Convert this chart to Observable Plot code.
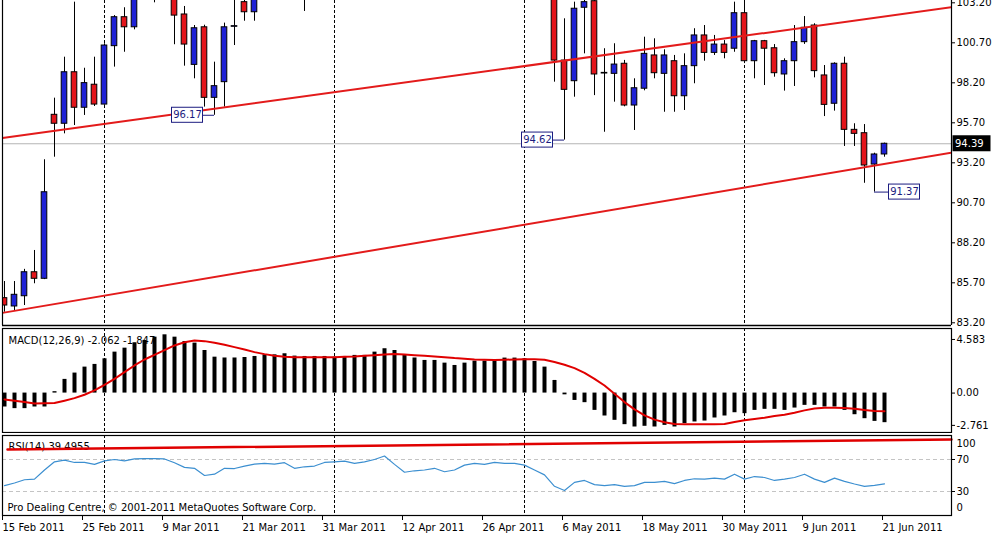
<!DOCTYPE html>
<html><head><meta charset="utf-8">
<script src="https://cdn.jsdelivr.net/npm/d3@7"></script>
<script src="https://cdn.jsdelivr.net/npm/@observablehq/plot@0.6"></script>
<style>
body{margin:0;background:#fff;}
#wrap{position:relative;width:1001px;height:538px;overflow:hidden;background:#fff;}
#wrap svg{position:absolute;left:0;}
</style></head><body><div id="wrap"></div>
<script>
// ---- DATA ----
const opens  = [84.74,84.22,84.86,86.36,85.95,96.2,95.64,98.86,96.64,98.08,96.84,100.49,102.3,101.67,104.3,105.4,104.1,104.6,102.47,99.32,101.67,97.26,98.24,101.7,103.24,102.61,103.9,104.8,105.5,105.1,104.3,104.9,105.7,105.2,105.9,106.5,107.0,108.0,108.6,109.2,106.2,105.0,105.8,105.3,106.5,105.1,106.0,107.3,107.1,107.5,107.9,107.4,106.9,105.6,104.5,104.0,99.59,98.3,102.89,103.3,98.78,98.76,99.39,96.78,97.83,99.91,98.76,99.55,97.36,99.24,101.16,100.07,100.59,100.33,102.55,99.55,100.8,100.36,98.72,99.55,100.74,101.78,98.66,96.89,99.39,95.26,95.05,93.09,93.72];
const highs  = [85.78,85.78,86.54,87.72,93.39,97.24,99.8,103.24,99.11,99.8,100.64,102.4,102.89,104.6,105.8,106.2,105.0,104.9,102.97,101.78,101.8,99.49,101.93,103.6,103.6,104.2,105.1,105.9,106.3,105.6,105.2,106.0,106.4,106.1,106.8,107.4,108.3,109.2,109.6,109.4,106.9,106.2,106.4,106.8,106.9,106.3,107.6,108.0,107.9,108.4,108.3,108.1,107.5,106.2,105.0,104.2,102.2,103.24,103.5,103.6,100.33,100.64,99.6,98.45,101.05,100.95,100.26,99.91,100.01,101.58,101.78,101.16,100.84,103.24,103.6,100.85,100.85,100.59,99.7,101.78,102.34,101.89,99.28,99.45,99.8,95.64,95.59,93.8,94.43];
const lows   = [83.86,83.96,84.28,85.64,85.9,93.55,95.01,95.53,96.16,96.72,96.8,99.18,100.11,101.51,103.9,103.2,103.6,100.58,99.24,98.45,96.68,96.17,96.68,100.53,102.05,102.05,103.6,104.2,104.9,103.8,102.66,104.4,104.9,104.7,105.3,105.9,106.6,107.4,108.1,105.8,104.6,104.5,104.9,105.0,104.8,104.7,105.8,106.5,106.4,106.9,107.0,106.5,105.2,104.1,103.6,98.24,94.62,97.3,100.01,97.4,95.11,96.99,96.7,95.22,97.7,98.45,96.36,96.36,96.47,98.14,99.55,99.91,99.7,100.11,99.4,98.45,98.03,98.55,97.68,97.97,100.6,98.51,96.09,96.43,94.22,94.22,91.92,91.37,93.55];
const closes = [84.28,84.95,86.36,85.95,91.36,95.64,98.86,96.64,98.18,96.84,100.53,102.3,101.67,104.3,105.4,104.1,104.6,102.4,100.59,101.61,97.26,97.99,101.67,101.74,102.61,103.9,104.8,105.5,105.1,104.3,104.9,105.7,105.2,105.9,106.5,107.0,108.0,108.6,109.2,106.2,105.0,105.8,105.3,106.5,105.1,106.0,107.3,107.1,107.5,107.9,107.4,106.9,105.6,104.5,104.0,99.59,97.76,102.83,103.24,98.72,98.82,99.34,96.78,97.86,100.01,98.8,99.91,97.36,99.24,101.16,100.07,100.59,100.07,102.55,99.55,100.8,100.33,98.8,99.55,100.74,101.64,98.93,96.82,99.39,95.26,95.01,93.03,93.72,94.39];

const macdHist = [-1.19,-1.33,-1.33,-1.19,-1.19,0.12,1.17,1.71,2.22,2.45,2.93,3.5,3.84,4.3,4.5,4.78,4.98,4.78,4.41,4.27,3.64,3.07,3.0,3.0,3.04,3.13,3.27,3.27,3.36,3.16,3.13,3.13,3.13,3.07,3.13,3.22,3.22,3.5,3.79,3.64,3.27,3.0,2.79,2.79,2.56,2.36,2.56,2.73,2.73,2.85,2.99,2.99,2.93,2.7,2.22,1.08,-0.15,-0.63,-0.82,-1.48,-1.96,-2.33,-2.7,-2.9,-2.84,-2.9,-2.76,-2.9,-2.61,-2.47,-2.39,-2.13,-1.96,-1.68,-1.76,-1.48,-1.39,-1.39,-1.48,-1.28,-1.05,-1.05,-1.19,-1.19,-1.48,-1.85,-2.19,-2.42,-2.53];
const macdSignal = [-0.54,-0.65,-0.77,-0.9,-0.88,-0.85,-0.65,-0.43,-0.14,0.23,0.71,1.22,1.79,2.36,2.87,3.27,3.67,4.07,4.35,4.5,4.44,4.3,4.13,3.93,3.73,3.5,3.33,3.19,3.1,3.07,3.07,3.07,3.07,3.07,3.1,3.13,3.19,3.24,3.3,3.33,3.3,3.24,3.19,3.13,3.07,2.99,2.93,2.87,2.85,2.82,2.85,2.87,2.9,2.9,2.85,2.65,2.42,2.13,1.73,1.22,0.65,-0.06,-0.77,-1.39,-1.9,-2.27,-2.5,-2.64,-2.67,-2.67,-2.67,-2.67,-2.64,-2.47,-2.33,-2.22,-2.1,-1.96,-1.85,-1.68,-1.48,-1.31,-1.25,-1.25,-1.28,-1.34,-1.45,-1.53,-1.56];
const rsi = [37.3,40.6,44.7,45.5,56.9,67.1,69.2,66.3,66.3,63.9,68.3,70,68.3,70.7,71.1,71.1,70.7,65.9,60.2,59,50,51.6,59,58.7,61.8,64.3,65.1,64.3,66,59,60.9,61.8,66.3,67.1,67.9,65.1,67.1,70,74.4,63.9,54.1,55.9,56.9,59,54.7,56.9,63,65.1,63.9,66.3,65.1,65.1,63,56.9,50.8,36.5,31.2,41.4,43.8,38.6,37.3,38.6,36.5,37.3,41.4,41.4,42.6,39.8,43.8,45.9,45.5,46.7,45.5,51.6,45.5,48.7,47.5,43.8,45.5,47.5,51.6,45.5,41.4,46.7,42.6,39.4,36.5,37.7,39.4955];

const dateTickBars = [0,8,16,24,32,40,48,56,64,72,80,88];
const dateLabels = ["15 Feb 2011","25 Feb 2011","9 Mar 2011","21 Mar 2011","31 Mar 2011","12 Apr 2011","26 Apr 2011","6 May 2011","18 May 2011","30 May 2011","9 Jun 2011","21 Jun 2011"];
const separatorBars = [10,33,52,74];
const priceTicks = [83.2,85.7,88.2,90.7,93.2,95.7,98.2,100.7,103.2];
const macdTicks = [4.583,0,-2.761];
const macdTickLabels = ["4.583","0.00","-2.761"];
const rsiLevels = [70,30];
const upperTrend = [{i:-0.2,p:94.75},{i:94.7,p:102.92}];
const lowerTrend = [{i:-0.2,p:83.82},{i:94.7,p:93.84}];
const rsiTrend = [{i:0.3,v:82.5},{i:94.7,v:95.0}];
const annotations = [{bar:21,value:96.17,side:"left"},{bar:56,value:94.62,side:"left"},{bar:87,value:91.37,side:"right"}];
const macdLabel = "MACD(12,26,9) -2.062 -1.847";
const rsiLabel = "RSI(14) 39.4955";
const copyright = "Pro Dealing Centre, \u00A9 2001-2011 MetaQuotes Software Corp.";

// ---- BUILD ----
const bars = opens.map((o,i)=>({i, open:o, high:highs[i], low:lows[i], close:closes[i]}));
const hist = macdHist.map((v,i)=>({i,v}));
const sig = macdSignal.map((v,i)=>({i,v}));
const rsiData = rsi.map((v,i)=>({i,v}));
const lastClose = closes[closes.length-1];
const XD = [-0.2, 94.7];
const BLUE = "#1f22d6", RED = "#e3151b", NAVY = "#1c1c80", TREND = "#e31b1b";
const common = {width:1001, marginLeft:2, marginRight:50,
  style:{fontFamily:"DejaVu Sans, sans-serif", fontSize:"10px", background:"transparent", color:"#000"}};
const ann = annotations.map(a => {
  const c = a.side === "left" ? a.bar - 2.7 : a.bar + 3.0;
  return {...a, c, x1: c - 1.55, x2: c + 1.55, edge: a.side === "left" ? c + 1.55 : c - 1.55};
});
const wrap = document.getElementById("wrap");

// main price panel (svg taller than the plot area so the bottom tick label is not cut)
const main = Plot.plot({...common, height:340, marginTop:0, marginBottom:15,
  x:{domain:XD, axis:null}, y:{domain:[83.031,103.344], axis:null},
  marks:[
    Plot.ruleX(separatorBars, {stroke:"#000", strokeDasharray:"3,2"}),
    Plot.ruleY([lastClose], {stroke:"#b5b5b5"}),
    Plot.ruleX(bars, {x:"i", y1:"low", y2:"high", stroke:"#000", strokeWidth:1, clip:true}),
    Plot.rect(bars, {filter:d=>d.close>=d.open, x1:d=>d.i-0.28, x2:d=>d.i+0.28, y1:"open", y2:"close", fill:BLUE, stroke:"#000", strokeWidth:1, clip:true}),
    Plot.rect(bars, {filter:d=>d.close<d.open, x1:d=>d.i-0.28, x2:d=>d.i+0.28, y1:"open", y2:"close", fill:RED, stroke:"#000", strokeWidth:1, clip:true}),
    Plot.line(upperTrend, {x:"i", y:"p", stroke:TREND, strokeWidth:2, clip:true}),
    Plot.line(lowerTrend, {x:"i", y:"p", stroke:TREND, strokeWidth:2, clip:true}),
    Plot.ruleY(ann, {y:"value", x1:"bar", x2:"edge", stroke:NAVY, strokeWidth:1}),
    Plot.rect(ann, {x1:"x1", x2:"x2", y1:d=>d.value-0.47, y2:d=>d.value+0.47, fill:"#fff", stroke:NAVY, strokeWidth:1}),
    Plot.text(ann, {x:"c", y:"value", text:d=>d.value.toFixed(2), fill:NAVY, fontSize:10}),
    Plot.ruleX([XD[0], XD[1]], {stroke:"#000", strokeWidth:1.2}),
    Plot.ruleY([83.031], {stroke:"#000", strokeWidth:1.5}),
    Plot.axisY({anchor:"right", ticks:priceTicks, tickFormat:d=>d.toFixed(2), tickSize:3, tickPadding:2, label:null}),
    Plot.rect([lastClose], {x1:XD[1]+0.15, x2:XD[1]+3.95, y1:d=>d-0.5, y2:d=>d+0.5, fill:"#000"}),
    Plot.text([lastClose], {x:XD[1]+0.35, y:d=>d, text:d=>d.toFixed(2), fill:"#fff", textAnchor:"start", fontSize:10})
  ]});
main.style.top = "0px";

// MACD panel
const macd = Plot.plot({...common, height:106, marginTop:1, marginBottom:1,
  x:{domain:XD, axis:null}, y:{domain:[-3.37,5.52], axis:null},
  marks:[
    Plot.ruleX(separatorBars, {stroke:"#000", strokeDasharray:"3,2"}),
    Plot.text([macdLabel], {frameAnchor:"top-left", dx:6, dy:12, textAnchor:"start", lineAnchor:"middle", fill:"#000", fontSize:10}),
    Plot.ruleX(hist, {x:"i", y1:0, y2:"v", stroke:"#000", strokeWidth:4}),
    Plot.line(sig, {x:"i", y:"v", stroke:"#e00000", strokeWidth:2}),
    Plot.frame({stroke:"#000", strokeWidth:1.2}),
    Plot.axisY({anchor:"right", ticks:macdTicks, tickFormat:d=>macdTickLabels[macdTicks.indexOf(d)], tickSize:3, tickPadding:2, label:null})
  ]});
macd.style.top = "327px";

// RSI panel
const rsiPlot = Plot.plot({...common, height:105, marginTop:2, marginBottom:23,
  x:{domain:XD, axis:null}, y:{domain:[0,100], axis:null},
  marks:[
    Plot.ruleX(separatorBars, {stroke:"#000", strokeDasharray:"3,2"}),
    Plot.ruleY(rsiLevels, {stroke:"#c4c4c4", strokeDasharray:"4,3"}),
    Plot.text([rsiLabel], {frameAnchor:"top-left", dx:6, dy:11, textAnchor:"start", lineAnchor:"middle", fill:"#000", fontSize:10}),
    Plot.text([copyright], {frameAnchor:"bottom-left", dx:5, dy:-8, textAnchor:"start", lineAnchor:"middle", fill:"#000", fontSize:10}),
    Plot.line(rsiData, {x:"i", y:"v", stroke:"#3c8fd0", strokeWidth:1.2}),
    Plot.line(rsiTrend, {x:"i", y:"v", stroke:"#e00000", strokeWidth:2.5}),
    Plot.frame({stroke:"#000", strokeWidth:1.2}),
    Plot.axisY({anchor:"right", ticks:rsiLevels, tickSize:3, tickPadding:2, label:null}),
    Plot.text([100], {x:XD[1], y:d=>d, dx:5, dy:8, text:d=>String(d), textAnchor:"start", fill:"#000"}),
    Plot.text([0], {x:XD[1], y:d=>d, dx:5, dy:-8, text:d=>String(d), textAnchor:"start", fill:"#000"}),
    Plot.axisX({anchor:"bottom", ticks:dateTickBars, tickFormat:d=>dateLabels[dateTickBars.indexOf(d)], tickSize:5, tickPadding:3, textAnchor:"start", dx:-2, label:null})
  ]});
rsiPlot.style.top = "433px";

wrap.appendChild(rsiPlot);
wrap.appendChild(macd);
wrap.appendChild(main);
</script></body></html>
